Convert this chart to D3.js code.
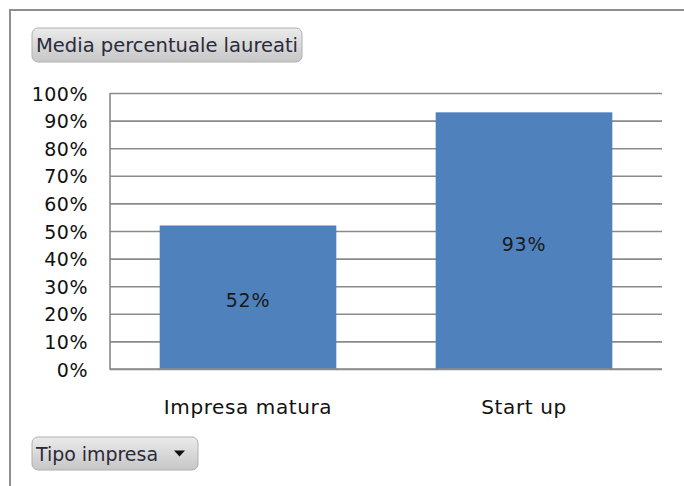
<!DOCTYPE html>
<html>
<head>
<meta charset="utf-8">
<script src="https://cdn.jsdelivr.net/npm/d3@7"></script>
<style>
  body { margin: 0; background: #fff; }
  text { font-family: "DejaVu Sans", Verdana, sans-serif; }
</style>
</head>
<body>
<svg></svg>
<script>
const WIDTH = 684;
const HEIGHT = 486;

// Chart data.
const categories = ['Impresa matura', 'Start up'];
const values = [0.52, 0.93];
const yTicks = [0, 0.1, 0.2, 0.3, 0.4, 0.5, 0.6, 0.7, 0.8, 0.9, 1];
const fieldLabel = 'Media percentuale laureati';
const axisFieldLabel = 'Tipo impresa';

const pct = d3.format('.0%');

const svg = d3
  .select('svg')
  .attr('width', WIDTH)
  .attr('height', HEIGHT);

// Gradient for the field buttons.
const grad = svg.append('defs').append('linearGradient')
  .attr('id', 'btn').attr('x1', 0).attr('y1', 0).attr('x2', 0).attr('y2', 1);
grad.append('stop').attr('offset', '0%').attr('stop-color', '#ebebeb');
grad.append('stop').attr('offset', '100%').attr('stop-color', '#c6c6c6');

// Outer frame (top and left edges only are visible).
svg.append('path')
  .attr('d', `M10,${HEIGHT} V10 H${WIDTH}`)
  .attr('fill', 'none')
  .attr('stroke', '#8f8f8f')
  .attr('stroke-width', 2);

const plot = {left: 110, right: 662, top: 93, bottom: 369};

const x = d3.scaleBand()
  .domain(categories)
  .range([plot.left, plot.right])
  .paddingInner(0.36)
  .paddingOuter(0.18);

const y = d3.scaleLinear()
  .domain([0, 1])
  .range([plot.bottom, plot.top]);

// Gridlines.
svg.append('g')
  .attr('transform', `translate(${plot.left},0)`)
  .call(d3.axisLeft(y).tickValues(yTicks).tickSize(-(plot.right - plot.left)).tickFormat(''))
  .call(g => g.select('.domain').remove())
  .call(g => g.selectAll('line').attr('stroke', '#8a8a8a').attr('stroke-width', 1.6));

// Y tick labels.
svg.append('g')
  .attr('transform', `translate(${plot.left},1)`)
  .call(d3.axisLeft(y).tickValues(yTicks).tickSize(0).tickPadding(22).tickFormat(pct))
  .call(g => g.select('.domain').remove())
  .call(g => g.selectAll('text')
    .attr('fill', '#111')
    .style('font-size', '19px')
    .style('letter-spacing', '0.5px')
    .style('font-family', '"DejaVu Sans", Verdana, sans-serif'));

// Bars.
svg.append('g')
  .selectAll('rect')
  .data(values)
  .join('rect')
  .attr('x', (d, i) => x(categories[i]))
  .attr('y', d => y(d))
  .attr('width', x.bandwidth())
  .attr('height', d => y(0) - y(d))
  .attr('fill', '#4f81bd');

// Data labels inside bars.
svg.append('g')
  .selectAll('text')
  .data(values)
  .join('text')
  .attr('x', (d, i) => x(categories[i]) + x.bandwidth() / 2)
  .attr('y', d => (y(d) + y(0)) / 2 + 10)
  .attr('text-anchor', 'middle')
  .attr('fill', '#1a1a1a')
  .style('font-size', '19px')
  .style('letter-spacing', '0.8px')
  .text(d => pct(d));

// Axis lines (left and bottom).
svg.append('path')
  .attr('d', `M${plot.left},${plot.top} V${plot.bottom} H${plot.right}`)
  .attr('fill', 'none')
  .attr('stroke', '#8a8a8a')
  .attr('stroke-width', 1.6);

// Category labels.
svg.append('g')
  .attr('transform', `translate(0,${plot.bottom})`)
  .call(d3.axisBottom(x).tickSize(0).tickPadding(31))
  .call(g => g.select('.domain').remove())
  .call(g => g.selectAll('text')
    .attr('fill', '#111')
    .style('font-size', '20px')
    .style('letter-spacing', '0.6px')
    .style('font-family', '"DejaVu Sans", Verdana, sans-serif'));

// Field buttons.
function button(x0, y0, w, h, label, textLen, dropdown) {
  const g = svg.append('g').attr('transform', `translate(${x0},${y0})`);
  g.append('rect')
    .attr('width', w).attr('height', h)
    .attr('rx', 6).attr('ry', 6)
    .attr('fill', 'url(#btn)')
    .attr('stroke', '#b0b0b0');
  g.append('text')
    .attr('x', 4).attr('y', h / 2 + 7)
    .attr('fill', '#2a2a3a')
    .attr('textLength', textLen)
    .attr('lengthAdjust', 'spacingAndGlyphs')
    .style('font-family', '"DejaVu Sans Condensed", "DejaVu Sans", sans-serif')
    .style('font-size', '20px')
    .text(label);
  if (dropdown) {
    g.append('path')
      .attr('d', `M${w - 24},${h / 2 - 3} h11 l-5.5,6 z`)
      .attr('fill', '#111');
  }
}

button(32, 28, 270, 34, fieldLabel, 262, false);
button(32, 437, 166, 33, axisFieldLabel, 122, true);
</script>
</body>
</html>
